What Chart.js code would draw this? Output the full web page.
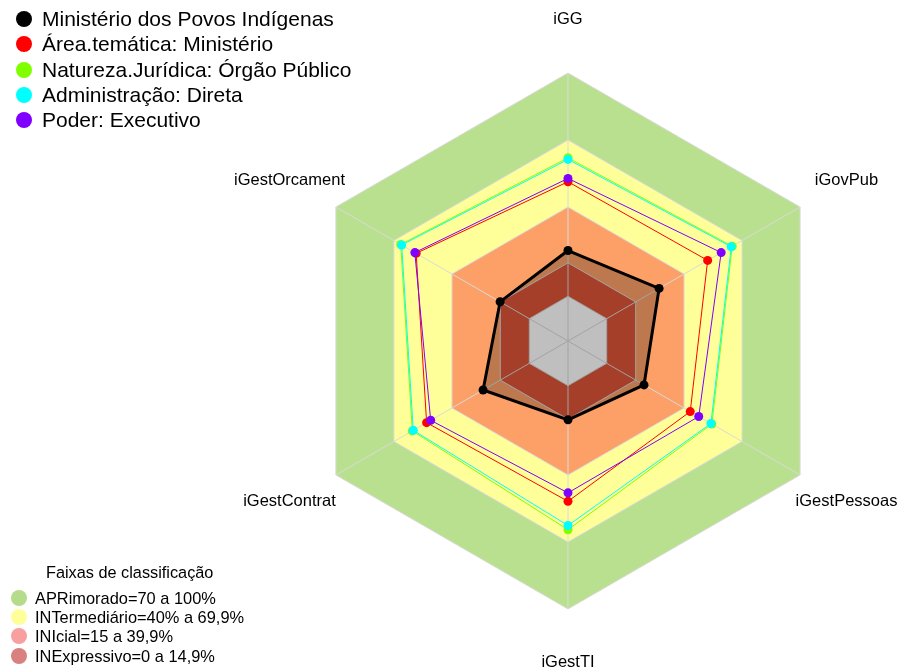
<!DOCTYPE html>
<html>
<head>
<meta charset="utf-8">
<script src="https://cdn.jsdelivr.net/npm/chart.js@4/dist/chart.umd.min.js"></script>
<style>
html,body{margin:0;padding:0;background:#fff;}
#wrap{position:relative;width:901px;height:672px;overflow:hidden;font-family:"Liberation Sans",Arial,sans-serif;color:#000;}
#c{position:absolute;left:0;top:0;}
.row{position:absolute;white-space:nowrap;}
.dot{position:absolute;border-radius:50%;}
</style>
</head>
<body>
<div id="wrap">
<canvas id="c" width="901" height="672"></canvas>
<div id="leg1"></div>
<div id="leg2"></div>
</div>
<script>
// ---- data ----
const labels = ['iGG', 'iGovPub', 'iGestPessoas', 'iGestTI', 'iGestContrat', 'iGestOrcament'];
const seriesNames = ['Ministério dos Povos Indígenas', 'Área.temática: Ministério', 'Natureza.Jurídica: Órgão Público', 'Administração: Direta', 'Poder: Executivo'];
const seriesColors = ['#000000', '#FF0000', '#80FF00', '#00FFFF', '#8000FF'];
const orgao = [20.5, 27.1, 19.3, 15.3, 23.9, 15.1];
const areaTematica = [51.3, 52.2, 43.2, 51.8, 53.1, 58.5];
const naturezaJuridica = [62.0, 64.9, 54.4, 64.5, 60.5, 66.5];
const administracao = [61.3, 64.4, 53.9, 62.6, 60.0, 66.0];
const poder = [52.8, 59.2, 47.6, 48.0, 51.0, 59.2];
const legendTitle = 'Faixas de classificação';
const bandNames = ['APRimorado=70 a 100%', 'INTermediário=40% a 69,9%', 'INIcial=15 a 39,9%', 'INExpressivo=0 a 14,9%'];
const bandUpper = [100, 70, 40, 15, 0];
const bandColors = ['#B9E08F', '#FFFF99', '#FCA068', '#DC5538', '#FFFFFF'];
const bandLegendColors = ['#B5DC8A', '#FFFF99', '#F8A0A0', '#D98080'];
const scaleMin = -20;
const scaleMax = 100;

const seriesData = [orgao, areaTematica, naturezaJuridica, administracao, poder];

// ---- datasets ----
const datasets = [];
for (let k = seriesData.length - 1; k >= 0; k--) {
  const isMain = k === 0;
  datasets.push({
    label: seriesNames[k],
    data: seriesData[k],
    borderColor: seriesColors[k],
    backgroundColor: isMain ? 'rgba(0,0,0,0.25)' : 'transparent',
    fill: isMain ? 'start' : false,
    borderWidth: isMain ? 3 : 1,
    pointRadius: 4.5,
    pointBorderWidth: 0,
    pointBackgroundColor: seriesColors[k],
    pointHoverRadius: 4.5
  });
}
for (let b = bandUpper.length - 1; b >= 0; b--) {
  datasets.push({
    label: 'band' + b,
    isBand: true,
    isCenter: b === bandUpper.length - 1,
    data: labels.map(() => bandUpper[b]),
    borderColor: '#DADADA',
    backgroundColor: bandColors[b],
    fill: 'start',
    borderWidth: 1,
    pointRadius: 0,
    pointHoverRadius: 0
  });
}

const angleLinesPlugin = {
  id: 'angleLinesOverBands',
  afterDatasetDraw(chart, args) {
    const ds = chart.data.datasets[args.index];
    if (!ds.isCenter) return;
    const scale = chart.scales.r;
    const ctx = chart.ctx;
    ctx.save();
    ctx.strokeStyle = '#DADADA';
    ctx.lineWidth = 1;
    for (let i = 0; i < labels.length; i++) {
      const p = scale.getPointPositionForValue(i, scaleMax);
      ctx.beginPath();
      ctx.moveTo(scale.xCenter, scale.yCenter);
      ctx.lineTo(p.x, p.y);
      ctx.stroke();
    }
    ctx.restore();
  }
};

const pointLabelsPlugin = {
  id: 'centeredPointLabels',
  afterDraw(chart) {
    const scale = chart.scales.r;
    const ctx = chart.ctx;
    ctx.save();
    ctx.font = '16.5px "Liberation Sans", Arial, sans-serif';
    ctx.fillStyle = '#000';
    ctx.textAlign = 'center';
    ctx.textBaseline = 'middle';
    for (let i = 0; i < labels.length; i++) {
      const p = scale.getPointPosition(i, scale.drawingArea * 1.2);
      ctx.fillText(labels[i], p.x, p.y);
    }
    ctx.restore();
  }
};

new Chart(document.getElementById('c'), {
  type: 'radar',
  data: { labels: labels, datasets: datasets },
  options: {
    responsive: false,
    animation: false,
    layout: { padding: { left: 300, right: 65, top: 73, bottom: 63 } },
    plugins: { legend: { display: false }, tooltip: { enabled: false } },
    elements: { line: { tension: 0 } },
    scales: {
      r: {
        min: scaleMin,
        max: scaleMax,
        ticks: { display: false },
        grid: { display: false },
        angleLines: { display: false },
        pointLabels: { display: false }
      }
    }
  },
  plugins: [angleLinesPlugin, pointLabelsPlugin]
});

// ---- HTML legends ----
const leg1 = document.getElementById('leg1');
seriesNames.forEach((name, i) => {
  const cy = 19 + 25.25 * i;
  const d = document.createElement('div');
  d.className = 'dot';
  d.style.cssText = `left:15.5px;top:${cy - 8}px;width:16px;height:16px;background:${seriesColors[i]};`;
  leg1.appendChild(d);
  const t = document.createElement('div');
  t.className = 'row';
  t.style.cssText = `left:42px;top:${cy - 13}px;height:26px;line-height:26px;font-size:21px;`;
  t.textContent = name;
  leg1.appendChild(t);
});
const leg2 = document.getElementById('leg2');
const title = document.createElement('div');
title.className = 'row';
title.style.cssText = 'left:46px;top:562px;height:20px;line-height:20px;font-size:16.3px;';
title.textContent = legendTitle;
leg2.appendChild(title);
bandNames.forEach((name, i) => {
  const cy = 597.5 + 19.4 * i;
  const d = document.createElement('div');
  d.className = 'dot';
  d.style.cssText = `left:11px;top:${cy - 8}px;width:16px;height:16px;background:${bandLegendColors[i]};`;
  leg2.appendChild(d);
  const t = document.createElement('div');
  t.className = 'row';
  t.style.cssText = `left:35px;top:${cy - 10}px;height:20px;line-height:20px;font-size:16.4px;`;
  t.textContent = name;
  leg2.appendChild(t);
});
</script>
</body>
</html>
